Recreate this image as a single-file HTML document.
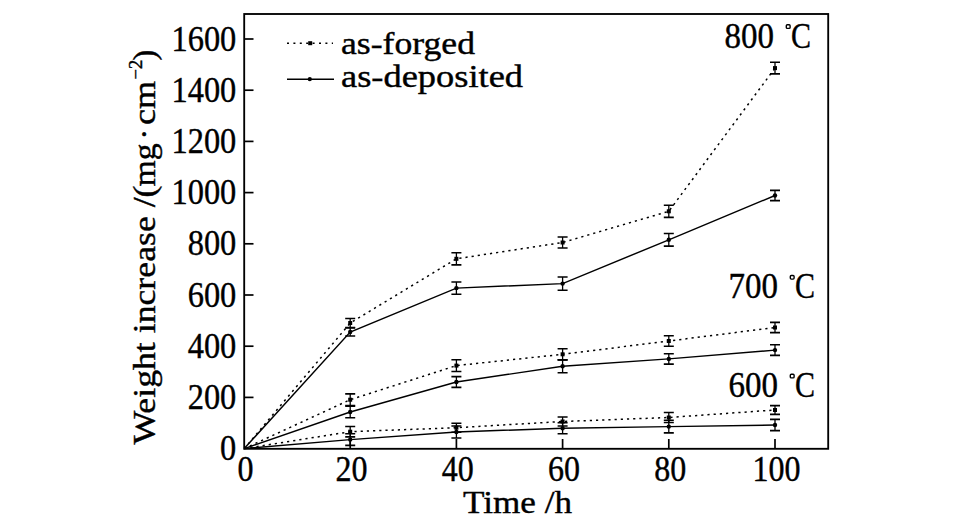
<!DOCTYPE html>
<html><head><meta charset="utf-8"><style>
html,body{margin:0;padding:0;background:#fff;}
svg{display:block;}
text{font-family:"Liberation Serif",serif;fill:#000;}
</style></head><body>
<svg width="956" height="531" viewBox="0 0 956 531">
<rect x="0" y="0" width="956" height="531" fill="#fff"/>
<rect x="244.2" y="14" width="584" height="434.8" fill="none" stroke="#000" stroke-width="1.85"/>
<path d="M350.2,448.8 V439" stroke="#000" stroke-width="1.7"/><path d="M456.4,448.8 V439" stroke="#000" stroke-width="1.7"/><path d="M562.6,448.8 V439" stroke="#000" stroke-width="1.7"/><path d="M668.8,448.8 V439" stroke="#000" stroke-width="1.7"/><path d="M775,448.8 V439" stroke="#000" stroke-width="1.7"/><path d="M244.2,397.4 H253.5" stroke="#000" stroke-width="1.7"/><path d="M244.2,346.2 H253.5" stroke="#000" stroke-width="1.7"/><path d="M244.2,295.0 H253.5" stroke="#000" stroke-width="1.7"/><path d="M244.2,243.8 H253.5" stroke="#000" stroke-width="1.7"/><path d="M244.2,192.6 H253.5" stroke="#000" stroke-width="1.7"/><path d="M244.2,141.4 H253.5" stroke="#000" stroke-width="1.7"/><path d="M244.2,90.2 H253.5" stroke="#000" stroke-width="1.7"/><path d="M244.2,39.0 H253.5" stroke="#000" stroke-width="1.7"/>
<path d="M244.2,448.6 L350.2,323.0 L456.4,258.8 L562.6,242.5 L668.8,211.3 L775.0,68.1" fill="none" stroke="#000" stroke-width="1.5" stroke-dasharray="2.2 4"/>
<path d="M350.2,318.5 V327.5" stroke="#000" stroke-width="1.3" fill="none"/><path d="M345.2,318.5 H355.2 M345.2,327.5 H355.2" stroke="#000" stroke-width="1.6" fill="none"/><rect x="348.2" y="321.0" width="4" height="4" fill="#000"/><path d="M456.4,252.7 V264.9" stroke="#000" stroke-width="1.3" fill="none"/><path d="M451.4,252.7 H461.4 M451.4,264.9 H461.4" stroke="#000" stroke-width="1.6" fill="none"/><rect x="454.4" y="256.8" width="4" height="4" fill="#000"/><path d="M562.6,237.0 V248.0" stroke="#000" stroke-width="1.3" fill="none"/><path d="M557.6,237.0 H567.6 M557.6,248.0 H567.6" stroke="#000" stroke-width="1.6" fill="none"/><rect x="560.6" y="240.5" width="4" height="4" fill="#000"/><path d="M668.8,205.2 V217.4" stroke="#000" stroke-width="1.3" fill="none"/><path d="M663.8,205.2 H673.8 M663.8,217.4 H673.8" stroke="#000" stroke-width="1.6" fill="none"/><rect x="666.8" y="209.3" width="4" height="4" fill="#000"/><path d="M775,62.3 V73.9" stroke="#000" stroke-width="1.3" fill="none"/><path d="M770,62.3 H780 M770,73.9 H780" stroke="#000" stroke-width="1.6" fill="none"/><rect x="773.0" y="66.1" width="4" height="4" fill="#000"/>
<path d="M244.2,448.6 L350.2,332.0 L456.4,288.1 L562.6,283.6 L668.8,239.8 L775.0,195.5" fill="none" stroke="#000" stroke-width="1.45"/>
<path d="M350.2,328.0 V336.0" stroke="#000" stroke-width="1.3" fill="none"/><path d="M345.2,328.0 H355.2 M345.2,336.0 H355.2" stroke="#000" stroke-width="1.6" fill="none"/><circle cx="350.2" cy="332.0" r="2.2" fill="#000"/><path d="M456.4,282.0 V294.2" stroke="#000" stroke-width="1.3" fill="none"/><path d="M451.4,282.0 H461.4 M451.4,294.2 H461.4" stroke="#000" stroke-width="1.6" fill="none"/><circle cx="456.4" cy="288.1" r="2.2" fill="#000"/><path d="M562.6,277.0 V290.2" stroke="#000" stroke-width="1.3" fill="none"/><path d="M557.6,277.0 H567.6 M557.6,290.2 H567.6" stroke="#000" stroke-width="1.6" fill="none"/><circle cx="562.6" cy="283.6" r="2.2" fill="#000"/><path d="M668.8,233.5 V246.1" stroke="#000" stroke-width="1.3" fill="none"/><path d="M663.8,233.5 H673.8 M663.8,246.1 H673.8" stroke="#000" stroke-width="1.6" fill="none"/><circle cx="668.8" cy="239.8" r="2.2" fill="#000"/><path d="M775,190.4 V200.6" stroke="#000" stroke-width="1.3" fill="none"/><path d="M770,190.4 H780 M770,200.6 H780" stroke="#000" stroke-width="1.6" fill="none"/><circle cx="775" cy="195.5" r="2.2" fill="#000"/>
<path d="M244.2,448.6 L350.2,399.7 L456.4,365.6 L562.6,354.3 L668.8,341.0 L775.0,327.5" fill="none" stroke="#000" stroke-width="1.5" stroke-dasharray="2.2 4"/>
<path d="M350.2,393.9 V405.5" stroke="#000" stroke-width="1.3" fill="none"/><path d="M345.2,393.9 H355.2 M345.2,405.5 H355.2" stroke="#000" stroke-width="1.6" fill="none"/><rect x="348.2" y="397.7" width="4" height="4" fill="#000"/><path d="M456.4,359.7 V371.5" stroke="#000" stroke-width="1.3" fill="none"/><path d="M451.4,359.7 H461.4 M451.4,371.5 H461.4" stroke="#000" stroke-width="1.6" fill="none"/><rect x="454.4" y="363.6" width="4" height="4" fill="#000"/><path d="M562.6,348.7 V359.9" stroke="#000" stroke-width="1.3" fill="none"/><path d="M557.6,348.7 H567.6 M557.6,359.9 H567.6" stroke="#000" stroke-width="1.6" fill="none"/><rect x="560.6" y="352.3" width="4" height="4" fill="#000"/><path d="M668.8,335.8 V346.2" stroke="#000" stroke-width="1.3" fill="none"/><path d="M663.8,335.8 H673.8 M663.8,346.2 H673.8" stroke="#000" stroke-width="1.6" fill="none"/><rect x="666.8" y="339.0" width="4" height="4" fill="#000"/><path d="M775,322.4 V332.6" stroke="#000" stroke-width="1.3" fill="none"/><path d="M770,322.4 H780 M770,332.6 H780" stroke="#000" stroke-width="1.6" fill="none"/><rect x="773.0" y="325.5" width="4" height="4" fill="#000"/>
<path d="M244.2,448.6 L350.2,412.0 L456.4,382.0 L562.6,366.3 L668.8,358.9 L775.0,350.1" fill="none" stroke="#000" stroke-width="1.45"/>
<path d="M350.2,406.3 V417.7" stroke="#000" stroke-width="1.3" fill="none"/><path d="M345.2,406.3 H355.2 M345.2,417.7 H355.2" stroke="#000" stroke-width="1.6" fill="none"/><circle cx="350.2" cy="412.0" r="2.2" fill="#000"/><path d="M456.4,376.6 V387.4" stroke="#000" stroke-width="1.3" fill="none"/><path d="M451.4,376.6 H461.4 M451.4,387.4 H461.4" stroke="#000" stroke-width="1.6" fill="none"/><circle cx="456.4" cy="382.0" r="2.2" fill="#000"/><path d="M562.6,359.9 V372.7" stroke="#000" stroke-width="1.3" fill="none"/><path d="M557.6,359.9 H567.6 M557.6,372.7 H567.6" stroke="#000" stroke-width="1.6" fill="none"/><circle cx="562.6" cy="366.3" r="2.2" fill="#000"/><path d="M668.8,353.7 V364.1" stroke="#000" stroke-width="1.3" fill="none"/><path d="M663.8,353.7 H673.8 M663.8,364.1 H673.8" stroke="#000" stroke-width="1.6" fill="none"/><circle cx="668.8" cy="358.9" r="2.2" fill="#000"/><path d="M775,344.8 V355.4" stroke="#000" stroke-width="1.3" fill="none"/><path d="M770,344.8 H780 M770,355.4 H780" stroke="#000" stroke-width="1.6" fill="none"/><circle cx="775" cy="350.1" r="2.2" fill="#000"/>
<path d="M244.2,448.6 L350.2,431.7 L456.4,427.7 L562.6,421.5 L668.8,417.5 L775.0,410.0" fill="none" stroke="#000" stroke-width="1.5" stroke-dasharray="2.2 4"/>
<path d="M350.2,426.5 V436.9" stroke="#000" stroke-width="1.3" fill="none"/><path d="M345.2,426.5 H355.2 M345.2,436.9 H355.2" stroke="#000" stroke-width="1.6" fill="none"/><rect x="348.2" y="429.7" width="4" height="4" fill="#000"/><path d="M456.4,423.2 V432.2" stroke="#000" stroke-width="1.3" fill="none"/><path d="M451.4,423.2 H461.4 M451.4,432.2 H461.4" stroke="#000" stroke-width="1.6" fill="none"/><rect x="454.4" y="425.7" width="4" height="4" fill="#000"/><path d="M562.6,417.0 V426.0" stroke="#000" stroke-width="1.3" fill="none"/><path d="M557.6,417.0 H567.6 M557.6,426.0 H567.6" stroke="#000" stroke-width="1.6" fill="none"/><rect x="560.6" y="419.5" width="4" height="4" fill="#000"/><path d="M668.8,412.5 V422.5" stroke="#000" stroke-width="1.3" fill="none"/><path d="M663.8,412.5 H673.8 M663.8,422.5 H673.8" stroke="#000" stroke-width="1.6" fill="none"/><rect x="666.8" y="415.5" width="4" height="4" fill="#000"/><path d="M775,405.6 V414.4" stroke="#000" stroke-width="1.3" fill="none"/><path d="M770,405.6 H780 M770,414.4 H780" stroke="#000" stroke-width="1.6" fill="none"/><rect x="773.0" y="408.0" width="4" height="4" fill="#000"/>
<path d="M244.2,448.6 L350.2,439.6 L456.4,432.0 L562.6,428.2 L668.8,426.6 L775.0,425.0" fill="none" stroke="#000" stroke-width="1.45"/>
<path d="M350.2,433.8 V445.4" stroke="#000" stroke-width="1.3" fill="none"/><path d="M345.2,433.8 H355.2 M345.2,445.4 H355.2" stroke="#000" stroke-width="1.6" fill="none"/><circle cx="350.2" cy="439.6" r="2.2" fill="#000"/><path d="M456.4,426.0 V438.0" stroke="#000" stroke-width="1.3" fill="none"/><path d="M451.4,426.0 H461.4 M451.4,438.0 H461.4" stroke="#000" stroke-width="1.6" fill="none"/><circle cx="456.4" cy="432.0" r="2.2" fill="#000"/><path d="M562.6,422.7 V433.7" stroke="#000" stroke-width="1.3" fill="none"/><path d="M557.6,422.7 H567.6 M557.6,433.7 H567.6" stroke="#000" stroke-width="1.6" fill="none"/><circle cx="562.6" cy="428.2" r="2.2" fill="#000"/><path d="M668.8,420.3 V432.9" stroke="#000" stroke-width="1.3" fill="none"/><path d="M663.8,420.3 H673.8 M663.8,432.9 H673.8" stroke="#000" stroke-width="1.6" fill="none"/><circle cx="668.8" cy="426.6" r="2.2" fill="#000"/><path d="M775,419.4 V430.6" stroke="#000" stroke-width="1.3" fill="none"/><path d="M770,419.4 H780 M770,430.6 H780" stroke="#000" stroke-width="1.6" fill="none"/><circle cx="775" cy="425.0" r="2.2" fill="#000"/>
<g font-size="35.1" stroke="#000" stroke-width="0.4">
<text x="220.1" y="459.9" textLength="16.2" lengthAdjust="spacingAndGlyphs">0</text><text x="187.7" y="408.8" textLength="48.599999999999994" lengthAdjust="spacingAndGlyphs">200</text><text x="187.7" y="357.6" textLength="48.599999999999994" lengthAdjust="spacingAndGlyphs">400</text><text x="187.7" y="306.5" textLength="48.599999999999994" lengthAdjust="spacingAndGlyphs">600</text><text x="187.7" y="255.4" textLength="48.599999999999994" lengthAdjust="spacingAndGlyphs">800</text><text x="171.5" y="204.3" textLength="64.8" lengthAdjust="spacingAndGlyphs">1000</text><text x="171.5" y="153.2" textLength="64.8" lengthAdjust="spacingAndGlyphs">1200</text><text x="171.5" y="102.0" textLength="64.8" lengthAdjust="spacingAndGlyphs">1400</text><text x="171.5" y="50.9" textLength="64.8" lengthAdjust="spacingAndGlyphs">1600</text>
<text x="237.6" y="480.8" textLength="16" lengthAdjust="spacingAndGlyphs">0</text><text x="335.6" y="480.8" textLength="32" lengthAdjust="spacingAndGlyphs">20</text><text x="441.8" y="480.8" textLength="32" lengthAdjust="spacingAndGlyphs">40</text><text x="548.0" y="480.8" textLength="32" lengthAdjust="spacingAndGlyphs">60</text><text x="654.2" y="480.8" textLength="32" lengthAdjust="spacingAndGlyphs">80</text><text x="752.4" y="480.8" textLength="48" lengthAdjust="spacingAndGlyphs">100</text>
</g>
<g font-size="32.2" stroke="#000" stroke-width="0.4">
<text x="463" y="513" textLength="109" lengthAdjust="spacingAndGlyphs">Time /h</text>
<g transform="translate(155,444.5) rotate(-90)">
<text x="0" y="0" textLength="259" lengthAdjust="spacingAndGlyphs">Weight increase /(</text>
<text x="258" y="0" textLength="43" lengthAdjust="spacingAndGlyphs">mg</text>
<text x="305" y="0">·</text>
<text x="319.5" y="0" textLength="44" lengthAdjust="spacingAndGlyphs">cm</text>
<text x="365" y="-13.5" font-size="18.5">−2</text>
<text x="384" y="0">)</text>
</g>
<text x="341" y="53.5" textLength="134" lengthAdjust="spacingAndGlyphs">as-forged</text>
<text x="341" y="86.6" textLength="182" lengthAdjust="spacingAndGlyphs">as-deposited</text>
<text x="724.5" y="47.9" font-size="35.1" textLength="49.5" lengthAdjust="spacingAndGlyphs">800</text>
<text x="728.5" y="298.4" font-size="35.1" textLength="49.5" lengthAdjust="spacingAndGlyphs">700</text>
<text x="728.5" y="396.6" font-size="35.1" textLength="49.5" lengthAdjust="spacingAndGlyphs">600</text>
<text x="791" y="47.6" font-size="35.5" textLength="20" lengthAdjust="spacingAndGlyphs">C</text>
<text x="795" y="298.4" font-size="35.5" textLength="20" lengthAdjust="spacingAndGlyphs">C</text>
<text x="795" y="396.6" font-size="35.5" textLength="20" lengthAdjust="spacingAndGlyphs">C</text>
</g>
<g fill="none" stroke="#000" stroke-width="1.4">
<rect x="786.3" y="24.8" width="3.8" height="3.6" rx="1"/>
<rect x="790.3" y="275.5" width="3.8" height="3.6" rx="1"/>
<rect x="790.3" y="374.3" width="3.8" height="3.6" rx="1"/>
</g>
<g>
<path d="M287,43.2 H333" stroke="#000" stroke-width="1.5" stroke-dasharray="2 4.4"/>
<rect x="308.2" y="41.2" width="4" height="4" fill="#000"/>
<path d="M287,79.2 H334" stroke="#000" stroke-width="1.6"/>
<circle cx="309.8" cy="79.2" r="2.1" fill="#000"/>
</g>
</svg>
</body></html>
